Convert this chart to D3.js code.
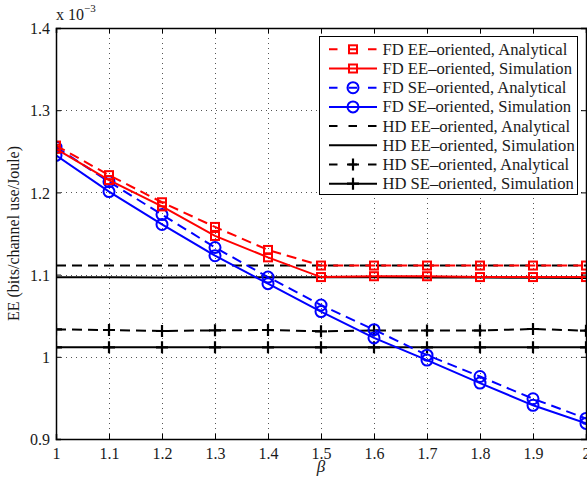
<!DOCTYPE html>
<html lang="en">
  <head>
    <meta charset="utf-8" />
    <title>EE versus beta</title>
    <script type="text/javascript" src="https://d3js.org/d3.v7.min.js"></script>
    <style>
      body { margin: 0; background: #fff; }
      text { font-family: "Liberation Serif", "Times New Roman", serif; fill: #1a1a1a; }
    </style>
  </head>
  <body>
    <script type="text/javascript">
      // x values (beta) and EE values in units of 1e-3
      var beta = [1, 1.1, 1.2, 1.3, 1.4, 1.5, 1.6, 1.7, 1.8, 1.9, 2];
      var fdEEAnalytical = [1.257, 1.221, 1.188, 1.158, 1.130, 1.111, 1.111, 1.111, 1.111, 1.111, 1.111];
      var fdEESimulation = [1.253, 1.215, 1.183, 1.147, 1.121, 1.097, 1.098, 1.098, 1.097, 1.097, 1.097];
      var fdSEAnalytical = [1.255, 1.213, 1.173, 1.133, 1.097, 1.063, 1.033, 1.002, 0.976, 0.949, 0.925];
      var fdSESimulation = [1.245, 1.201, 1.161, 1.123, 1.089, 1.055, 1.023, 0.996, 0.968, 0.941, 0.919];
      var hdEEAnalytical = [1.111, 1.111, 1.111, 1.111, 1.111, 1.111, 1.111, 1.111, 1.111, 1.111, 1.111];
      var hdEESimulation = [1.0968, 1.0968, 1.0965, 1.0967, 1.0968, 1.0968, 1.0967, 1.0966, 1.0964, 1.0962, 1.0960];
      var hdSEAnalytical = [1.0333, 1.0326, 1.0314, 1.0322, 1.0326, 1.031, 1.032, 1.032, 1.032, 1.0338, 1.0318];
      var hdSESimulation = [1.0115, 1.0115, 1.0115, 1.0115, 1.0115, 1.0115, 1.0115, 1.0115, 1.0115, 1.0115, 1.0115];

      var xTicks = [1, 1.1, 1.2, 1.3, 1.4, 1.5, 1.6, 1.7, 1.8, 1.9, 2];
      var yTicks = [0.9, 1, 1.1, 1.2, 1.3, 1.4];

      var series = [
        { name: "FD EE\u2013oriented, Analytical", values: fdEEAnalytical, color: "#ff0000", dash: "10,6", marker: "square" },
        { name: "FD EE\u2013oriented, Simulation", values: fdEESimulation, color: "#ff0000", dash: null, marker: "square" },
        { name: "FD SE\u2013oriented, Analytical", values: fdSEAnalytical, color: "#0000ff", dash: "10,6", marker: "circle" },
        { name: "FD SE\u2013oriented, Simulation", values: fdSESimulation, color: "#0000ff", dash: null, marker: "circle" },
        { name: "HD EE\u2013oriented, Analytical", values: hdEEAnalytical, color: "#000000", dash: "10,6", marker: null },
        { name: "HD EE\u2013oriented, Simulation", values: hdEESimulation, color: "#000000", dash: null, marker: null },
        { name: "HD SE\u2013oriented, Analytical", values: hdSEAnalytical, color: "#000000", dash: "10,6", marker: "plus" },
        { name: "HD SE\u2013oriented, Simulation", values: hdSESimulation, color: "#000000", dash: null, marker: "plus" }
      ];

      var width = 587, height = 485;
      var plotLeft = 56, plotRight = 586, plotTop = 28, plotBottom = 439;

      var x = d3.scaleLinear().domain([1, 2]).range([plotLeft, plotRight]);
      var y = d3.scaleLinear().domain([0.9, 1.4]).range([plotBottom, plotTop]);

      var svg = d3.select("body").append("svg")
        .attr("width", width)
        .attr("height", height);

      // dotted grid
      var grid = svg.append("g").attr("class", "grid")
        .attr("stroke", "#555").attr("stroke-width", 1).attr("stroke-dasharray", "1,4");
      grid.selectAll(".vg").data(xTicks.slice(1, -1)).enter().append("line")
        .attr("x1", function (d) { return Math.round(x(d)) + 0.5; })
        .attr("x2", function (d) { return Math.round(x(d)) + 0.5; })
        .attr("y1", plotTop).attr("y2", plotBottom);
      grid.selectAll(".hg").data(yTicks.slice(1, -1)).enter().append("line")
        .attr("y1", function (d) { return Math.round(y(d)) + 0.5; })
        .attr("y2", function (d) { return Math.round(y(d)) + 0.5; })
        .attr("x1", plotLeft).attr("x2", plotRight);

      // series
      svg.append("clipPath").attr("id", "plotclip").append("rect")
        .attr("x", plotLeft).attr("y", plotTop)
        .attr("width", plotRight - plotLeft).attr("height", plotBottom - plotTop);

      var line = d3.line()
        .x(function (d, i) { return x(beta[i]); })
        .y(function (d) { return y(d); });

      function drawMarker(g, kind, color) {
        if (kind === "square") {
          g.append("rect").attr("x", -4).attr("y", -4).attr("width", 8).attr("height", 8)
            .attr("fill", "none").attr("stroke", color).attr("stroke-width", 2);
        } else if (kind === "circle") {
          g.append("circle").attr("r", 5.5)
            .attr("fill", "none").attr("stroke", color).attr("stroke-width", 2);
        } else if (kind === "plus") {
          g.append("path").attr("d", "M-6,0H6M0,-6V6")
            .attr("fill", "none").attr("stroke", color).attr("stroke-width", 2.2);
        }
      }

      var plot = svg.append("g").attr("clip-path", "url(#plotclip)");
      series.slice().reverse().forEach(function (s) {
        plot.append("path")
          .datum(s.values)
          .attr("d", line)
          .attr("fill", "none")
          .attr("stroke", s.color)
          .attr("stroke-width", 2)
          .attr("stroke-dasharray", s.dash);
        if (s.marker) {
          s.values.forEach(function (v, i) {
            var g = plot.append("g").attr("transform", "translate(" + x(beta[i]) + "," + y(v) + ")");
            drawMarker(g, s.marker, s.color);
          });
        }
      });

      // axes
      var fmt = d3.format("~g");
      var xAxis = d3.axisBottom(x).tickValues(xTicks).tickSize(-5).tickPadding(9).tickFormat(fmt);
      var yAxis = d3.axisLeft(y).tickValues(yTicks).tickSize(-5).tickPadding(6).tickFormat(fmt);

      var gx = svg.append("g").attr("transform", "translate(0," + plotBottom + ")").call(xAxis);
      var gy = svg.append("g").attr("transform", "translate(" + plotLeft + ",0)").call(yAxis);
      var gxTop = svg.append("g").attr("transform", "translate(0," + plotTop + ")")
        .call(d3.axisTop(x).tickValues(xTicks).tickSize(-5).tickFormat(""));
      var gyRight = svg.append("g").attr("transform", "translate(" + plotRight + ",0)")
        .call(d3.axisRight(y).tickValues(yTicks).tickSize(-5).tickFormat(""));

      [gx, gy, gxTop, gyRight].forEach(function (g) {
        g.select(".domain").attr("stroke", "#000").attr("stroke-width", 1.5);
        g.selectAll(".tick line").attr("stroke", "#000").attr("stroke-width", 1);
        g.selectAll(".tick text").attr("font-size", 16).attr("font-family", "Liberation Serif").attr("fill", "#1a1a1a");
      });
      gy.selectAll(".tick text").attr("dy", "0.35em");

      // axis labels
      svg.append("text")
        .attr("x", (plotLeft + plotRight) / 2).attr("y", 472)
        .attr("text-anchor", "middle").attr("font-size", 17).attr("font-style", "italic")
        .text("\u03b2");
      svg.append("text")
        .attr("transform", "translate(19," + (plotTop + plotBottom) / 2 + ") rotate(-90)")
        .attr("text-anchor", "middle").attr("font-size", 16)
        .text("EE (bits/channel use/Joule)");

      var exp = svg.append("text").attr("x", plotLeft).attr("y", 20).attr("font-size", 16);
      exp.append("tspan").text("x 10");
      exp.append("tspan").attr("dy", -8).attr("font-size", 11).text("\u22123");

      // legend
      var lgX = 319.5, lgY = 36.5, lgW = 258, lgH = 158, rowH = 19.2;
      var legend = svg.append("g");
      legend.append("rect")
        .attr("x", lgX).attr("y", lgY).attr("width", lgW).attr("height", lgH)
        .attr("fill", "#fff").attr("stroke", "#000").attr("stroke-width", 1);

      series.forEach(function (s, i) {
        var cy = 49.3 + i * rowH;
        var row = legend.append("g");
        row.append("line")
          .attr("x1", 329).attr("x2", 377).attr("y1", cy).attr("y2", cy)
          .attr("stroke", s.color).attr("stroke-width", 2)
          .attr("stroke-dasharray", s.dash ? "8.5,11" : null);
        if (s.marker) {
          var g = row.append("g").attr("transform", "translate(353," + cy + ")");
          drawMarker(g, s.marker, s.color);
        }
        row.append("text")
          .attr("x", 382.5).attr("y", cy + 5.5)
          .attr("font-size", 16.6)
          .text(s.name);
      });
    </script>
  </body>
</html>
